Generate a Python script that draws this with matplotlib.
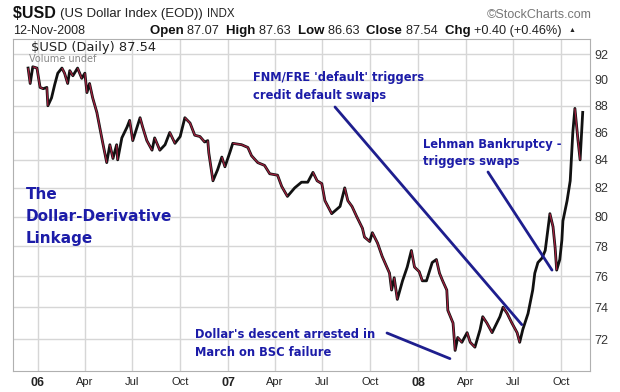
import matplotlib
matplotlib.use('Agg')
import matplotlib.pyplot as plt
import matplotlib.dates as mdates
import numpy as np
from matplotlib.collections import LineCollection
from matplotlib.ticker import NullLocator, NullFormatter

# US Dollar Index (roughly weekly)
dates = ['2005-12-13', '2005-12-17', '2005-12-22', '2005-12-30',
         '2006-01-05', '2006-01-11', '2006-01-18', '2006-01-20', '2006-01-27',
         '2006-02-02', '2006-02-08', '2006-02-16', '2006-02-21', '2006-02-27',
         '2006-03-03', '2006-03-09', '2006-03-18', '2006-03-26',
         '2006-04-01', '2006-04-05', '2006-04-10', '2006-04-16', '2006-04-24', '2006-04-30',
         '2006-05-05', '2006-05-13', '2006-05-19', '2006-05-25',
         '2006-06-01', '2006-06-03', '2006-06-11', '2006-06-21', '2006-06-26',
         '2006-07-02', '2006-07-16', '2006-07-21', '2006-07-29',
         '2006-08-08', '2006-08-13', '2006-08-23',
         '2006-09-02', '2006-09-11', '2006-09-21',
         '2006-10-01', '2006-10-10', '2006-10-20', '2006-10-29',
         '2006-11-08', '2006-11-17', '2006-11-23', '2006-11-25',
         '2006-12-03', '2006-12-12', '2006-12-20', '2006-12-26',
         '2007-01-05', '2007-01-10', '2007-01-27',
         '2007-02-08', '2007-02-15', '2007-02-27',
         '2007-03-12', '2007-03-22',
         '2007-04-06', '2007-04-14', '2007-04-25',
         '2007-05-09', '2007-05-22',
         '2007-06-03', '2007-06-13', '2007-06-21', '2007-06-30',
         '2007-07-06', '2007-07-19',
         '2007-08-04', '2007-08-13', '2007-08-19', '2007-08-27',
         '2007-09-05', '2007-09-16', '2007-09-20', '2007-09-30',
         '2007-10-05', '2007-10-15', '2007-10-24',
         '2007-11-07', '2007-11-11', '2007-11-16', '2007-11-22',
         '2007-12-02', '2007-12-11', '2007-12-19', '2007-12-25',
         '2008-01-03', '2008-01-09', '2008-01-17', '2008-01-28',
         '2008-02-05', '2008-02-11', '2008-02-17', '2008-02-25', '2008-02-27',
         '2008-03-08', '2008-03-12', '2008-03-17', '2008-03-25',
         '2008-04-04', '2008-04-10', '2008-04-19', '2008-04-29',
         '2008-05-04', '2008-05-12', '2008-05-22', '2008-05-31',
         '2008-06-06', '2008-06-12', '2008-06-20', '2008-06-29',
         '2008-07-09', '2008-07-14', '2008-07-20', '2008-07-30',
         '2008-08-08', '2008-08-12', '2008-08-18', '2008-08-26',
         '2008-09-01', '2008-09-06', '2008-09-10', '2008-09-16', '2008-09-20', '2008-09-23', '2008-09-29',
         '2008-10-03', '2008-10-05', '2008-10-13', '2008-10-19', '2008-10-24', '2008-10-28',
         '2008-11-03', '2008-11-07', '2008-11-12']

close = [90.9, 89.7, 91.0, 90.9,
         89.4, 89.3, 89.4, 88.0, 88.6,
         89.6, 90.5, 90.9, 90.5, 89.7,
         90.7, 90.3, 90.9, 90.1,
         90.5, 89.0, 89.7, 88.6, 87.5, 86.3,
         85.3, 83.8, 85.1, 84.1,
         85.1, 84.0, 85.6, 86.4, 86.9,
         85.4, 87.1, 86.4, 85.4,
         84.7, 85.6, 84.7,
         85.1, 86.0, 85.2,
         85.7, 87.1, 86.7, 85.8,
         85.7, 85.3, 85.4, 84.5,
         82.5, 83.3, 84.2, 83.5,
         84.6, 85.2, 85.1,
         84.9, 84.3, 83.8,
         83.6, 83.0,
         82.9, 82.1, 81.4,
         82.0, 82.4,
         82.4, 83.1, 82.5, 82.3,
         81.1, 80.2,
         80.7, 82.0, 81.1, 80.7,
         80.0, 79.2, 78.6, 78.3,
         78.9, 78.2, 77.3,
         76.2, 75.1, 75.9, 74.5,
         75.7, 76.6, 77.7, 76.6,
         76.3, 75.7, 75.7, 76.9,
         77.1, 76.2, 75.7, 75.1, 73.8,
         73.0, 71.3, 72.1, 71.8,
         72.4, 71.8, 71.5, 72.6,
         73.4, 73.0, 72.4, 73.0,
         73.4, 74.0, 73.6, 73.0,
         72.4, 71.8, 72.6, 73.6,
         75.1, 76.2, 76.9, 77.2,
         77.7, 79.1, 80.2, 79.3, 77.9, 76.4, 77.1,
         78.4, 79.7, 81.1, 82.5, 86.0, 87.8,
         85.4, 84.0, 87.5]

tick_dates = ['2006-01-01', '2006-04-01', '2006-07-01', '2006-10-01',
              '2007-01-01', '2007-04-01', '2007-07-01', '2007-10-01',
              '2008-01-01', '2008-04-01', '2008-07-01', '2008-10-01']
tick_labels = ['06', 'Apr', 'Jul', 'Oct', '07', 'Apr', 'Jul', 'Oct', '08', 'Apr', 'Jul', 'Oct']
price_ticks = [72, 74, 76, 78, 80, 82, 84, 86, 88, 90, 92]

quote_names = ['Open', 'High', 'Low', 'Close', 'Chg']
quote_values = ['87.07', '87.63', '86.63', '87.54', '+0.40 (+0.46%)']

W, H = 620, 392
BLUE = '#1c1ca8'
LINE_BLUE = '#1e1e8e'
HEAD = ['Liberation Sans', 'DejaVu Sans']

fig = plt.figure(figsize=(W / 100, H / 100), dpi=100)
ax = fig.add_axes([13 / W, 1 - 371 / H, 577 / W, 332 / H])

x = mdates.date2num(np.array(dates, dtype='datetime64[D]'))
y = np.array(close)
pts = np.column_stack([x, y]).reshape(-1, 1, 2)
segs = np.concatenate([pts[:-1], pts[1:]], axis=1)
# black price line, falling stretches get a thin red core like the down bars
ax.plot(x, y, color='#111111', lw=2.0, solid_joinstyle='round', zorder=3)
down = [s for s, a, b in zip(segs, y[:-1], y[1:]) if b < a]
ax.add_collection(LineCollection(down, colors='#a3203f', linewidths=0.9, zorder=4))

ax.set_yscale('log')
ax.set_ylim(70.05, 93.2)
ax.set_xlim(mdates.date2num(np.datetime64('2005-11-14')), mdates.date2num(np.datetime64('2008-11-26')))

ax.yaxis.tick_right()
ax.set_yticks(price_ticks)
ax.set_yticklabels([str(v) for v in price_ticks])
ax.yaxis.set_minor_locator(NullLocator())
ax.yaxis.set_minor_formatter(NullFormatter())
ax.set_xticks(mdates.date2num(np.array(tick_dates, dtype='datetime64[D]')))
ax.set_xticklabels(tick_labels)
for lab in ax.get_xticklabels():
    lab.set_family(HEAD)
    if lab.get_text().isdigit():
        lab.set_fontweight('bold')
        lab.set_fontsize(9)
    else:
        lab.set_fontsize(8)
for lab in ax.get_yticklabels():
    lab.set_family(HEAD)
ax.tick_params(axis='x', length=0, pad=4, colors='#222222')
ax.tick_params(axis='y', length=0, pad=3, labelsize=9, colors='#333333')
ax.grid(True, color='#d6d6d6', lw=1)
ax.set_axisbelow(True)
for s in ax.spines.values():
    s.set_color('#b0b0b0')

# header
r = fig.canvas.get_renderer()


def run_text(x0, y0, pieces):
    for s, kw in pieces:
        t = fig.text(x0 / W, 1 - y0 / H, s, va='center', ha='left', family=HEAD, **kw)
        x0 += t.get_window_extent(r).width


run_text(13, 14, [('$USD ', dict(fontsize=11.5, fontweight='bold', color='#111111')),
                  ('(US Dollar Index (EOD)) ', dict(fontsize=9.5, color='#222222')),
                  ('INDX', dict(fontsize=8.3, color='#222222'))])
fig.text(592 / W, 1 - 15 / H, '\u00a9StockCharts.com', ha='right', va='center',
         fontsize=9, color='#777777', family=HEAD)
fig.text(13 / W, 1 - 31 / H, '12-Nov-2008', ha='left', va='center',
         fontsize=9, color='#222222', family=HEAD)
pieces = []
for n, v in zip(quote_names, quote_values):
    pieces.append((n + ' ', dict(fontsize=9.5, fontweight='bold', color='#111111')))
    pieces.append((v + '  ', dict(fontsize=9.2, color='#222222')))
pieces.append(('\u25b2', dict(fontsize=5, color='#222222')))
run_text(150, 31, pieces)

fig.text(31 / W, 1 - 47 / H, '$USD (Daily) 87.54', ha='left', va='center',
         fontsize=9.4, color='#222222', family='DejaVu Sans')
fig.text(29 / W, 1 - 59 / H, 'Volume undef', ha='left', va='center',
         fontsize=7, color='#888888', family='DejaVu Sans')

# annotations
fig.text(26 / W, 1 - 187 / H, 'The\nDollar-Derivative\nLinkage', ha='left', va='top',
         fontsize=11, fontweight='bold', color=BLUE, linespacing=1.6, family='DejaVu Sans')
notes = [("FNM/FRE 'default' triggers\ncredit default swaps", 253, 71),
         ('Lehman Bankruptcy -\ntriggers swaps', 423, 138),
         ("Dollar's descent arrested in\nMarch on BSC failure", 195, 328)]
for txt, tx, ty in notes:
    fig.text(tx / W, 1 - ty / H, txt, ha='left', va='top', fontsize=8.3,
             fontweight='bold', color=BLUE, linespacing=1.45, family='DejaVu Sans')

pointers = [(335, 107, '2008-07-18', 72.9),
            (488, 172, '2008-09-14', 76.4),
            (387, 333, '2008-03-02', 70.8)]
for px, py, d, v in pointers:
    ax.annotate('', xy=(mdates.date2num(np.datetime64(d)), v), xytext=(px, H - py),
                textcoords='figure pixels', annotation_clip=False,
                arrowprops=dict(arrowstyle='-', color=LINE_BLUE, lw=2, shrinkA=0, shrinkB=0))

fig.savefig('out.png', dpi=100)
